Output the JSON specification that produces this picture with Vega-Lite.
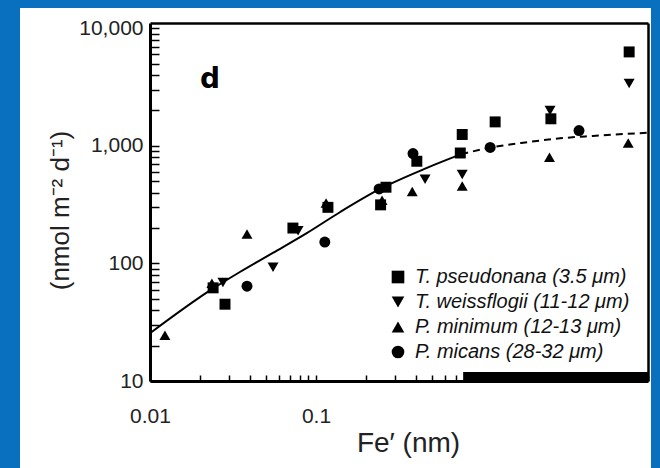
{
  "$schema": "https://vega.github.io/schema/vega-lite/v6.json",
  "width": 631,
  "height": 460,
  "autosize": {"type": "none"},
  "padding": {"left": 20, "top": 8, "right": 9, "bottom": 0},
  "background": "#0970c0",
  "view": {"fill": "white", "stroke": null},
  "config": {"font": "Liberation Sans"},
  "datasets": {
    "points": [
      {"species": "T. pseudonana (3.5 μm)", "fe": 0.024, "rate": 62},
      {"species": "T. pseudonana (3.5 μm)", "fe": 0.0283, "rate": 45},
      {"species": "T. pseudonana (3.5 μm)", "fe": 0.0726, "rate": 200},
      {"species": "T. pseudonana (3.5 μm)", "fe": 0.118, "rate": 300},
      {"species": "T. pseudonana (3.5 μm)", "fe": 0.245, "rate": 315},
      {"species": "T. pseudonana (3.5 μm)", "fe": 0.264, "rate": 445},
      {"species": "T. pseudonana (3.5 μm)", "fe": 0.405, "rate": 740},
      {"species": "T. pseudonana (3.5 μm)", "fe": 0.74, "rate": 870},
      {"species": "T. pseudonana (3.5 μm)", "fe": 0.76, "rate": 1250},
      {"species": "T. pseudonana (3.5 μm)", "fe": 1.2, "rate": 1600},
      {"species": "T. pseudonana (3.5 μm)", "fe": 2.6, "rate": 1700},
      {"species": "T. pseudonana (3.5 μm)", "fe": 7.7, "rate": 6300},
      {"species": "T. weissflogii (11-12 μm)", "fe": 0.0275, "rate": 69},
      {"species": "T. weissflogii (11-12 μm)", "fe": 0.0551, "rate": 93},
      {"species": "T. weissflogii (11-12 μm)", "fe": 0.078, "rate": 190},
      {"species": "T. weissflogii (11-12 μm)", "fe": 0.454, "rate": 520},
      {"species": "T. weissflogii (11-12 μm)", "fe": 0.76, "rate": 570},
      {"species": "T. weissflogii (11-12 μm)", "fe": 2.57, "rate": 2000},
      {"species": "T. weissflogii (11-12 μm)", "fe": 7.7, "rate": 3400},
      {"species": "P. minimum (12-13 μm)", "fe": 0.0123, "rate": 24.5},
      {"species": "P. minimum (12-13 μm)", "fe": 0.0236, "rate": 68},
      {"species": "P. minimum (12-13 μm)", "fe": 0.0384, "rate": 178},
      {"species": "P. minimum (12-13 μm)", "fe": 0.115, "rate": 327},
      {"species": "P. minimum (12-13 μm)", "fe": 0.25, "rate": 345},
      {"species": "P. minimum (12-13 μm)", "fe": 0.38, "rate": 410},
      {"species": "P. minimum (12-13 μm)", "fe": 0.76, "rate": 455},
      {"species": "P. minimum (12-13 μm)", "fe": 2.55, "rate": 800},
      {"species": "P. minimum (12-13 μm)", "fe": 7.6, "rate": 1060},
      {"species": "P. micans (28-32 μm)", "fe": 0.0384, "rate": 64},
      {"species": "P. micans (28-32 μm)", "fe": 0.113, "rate": 152},
      {"species": "P. micans (28-32 μm)", "fe": 0.24, "rate": 430},
      {"species": "P. micans (28-32 μm)", "fe": 0.384, "rate": 860},
      {"species": "P. micans (28-32 μm)", "fe": 1.12, "rate": 970},
      {"species": "P. micans (28-32 μm)", "fe": 3.84, "rate": 1350}
    ],
    "curve": [
      {"part": "solid", "fe": 0.01, "rate": 25.5},
      {"part": "solid", "fe": 0.023, "rate": 59},
      {"part": "solid", "fe": 0.035, "rate": 85},
      {"part": "solid", "fe": 0.055, "rate": 123},
      {"part": "solid", "fe": 0.088, "rate": 181},
      {"part": "solid", "fe": 0.14, "rate": 274},
      {"part": "solid", "fe": 0.243, "rate": 430},
      {"part": "solid", "fe": 0.466, "rate": 650},
      {"part": "solid", "fe": 0.75, "rate": 850},
      {"part": "dashed", "fe": 0.75, "rate": 850},
      {"part": "dashed", "fe": 1.16, "rate": 975},
      {"part": "dashed", "fe": 1.87, "rate": 1075},
      {"part": "dashed", "fe": 2.95, "rate": 1160},
      {"part": "dashed", "fe": 4.66, "rate": 1215},
      {"part": "dashed", "fe": 10, "rate": 1295}
    ],
    "bar": [
      {"x0": 0.77, "x1": 10, "y0": 10, "y1": 11.9}
    ],
    "panel": [
      {"label": "d", "fe": 0.023, "rate": 3105}
    ]
  },
  "layer": [
    {
      "data": {"name": "bar"},
      "mark": {"type": "rect", "color": "black"},
      "encoding": {
        "x": {"field": "x0", "type": "quantitative", "scale": {"type": "log", "domain": [0.01, 10], "range": [130, 628], "nice": false}, "axis": null},
        "x2": {"field": "x1"},
        "y": {"field": "y0", "type": "quantitative", "scale": {"type": "log", "domain": [10, 11100], "range": [373, 15], "nice": false}, "axis": null},
        "y2": {"field": "y1"}
      }
    },
    {
      "data": {"name": "curve"},
      "transform": [{"filter": "datum.part == 'solid'"}],
      "mark": {"type": "line", "color": "black", "strokeWidth": 2, "interpolate": "monotone"},
      "encoding": {
        "x": {"field": "fe", "type": "quantitative", "scale": {"type": "log", "domain": [0.01, 10], "range": [130, 628], "nice": false},
          "axis": {"orient": "top", "offset": -15, "ticks": false, "labels": false, "title": null, "grid": false, "domainColor": "black", "domainWidth": 2.5}},
        "y": {"field": "rate", "type": "quantitative", "scale": {"type": "log", "domain": [10, 11100], "range": [373, 15], "nice": false},
          "axis": {"orient": "right", "offset": -3, "ticks": false, "labels": false, "title": null, "grid": false, "domainColor": "black", "domainWidth": 2.5}}
      }
    },
    {
      "data": {"name": "curve"},
      "transform": [{"filter": "datum.part == 'dashed'"}],
      "mark": {"type": "line", "color": "black", "strokeWidth": 2, "strokeDash": [7, 5], "interpolate": "monotone"},
      "encoding": {
        "x": {"field": "fe", "type": "quantitative", "axis": null},
        "y": {"field": "rate", "type": "quantitative", "axis": null}
      }
    },
    {
      "data": {"name": "points"},
      "mark": {"type": "point", "filled": true, "color": "black", "opacity": 1, "size": 120},
      "encoding": {
        "x": {"field": "fe", "type": "quantitative",
          "axis": {"orient": "bottom", "offset": -87,
            "values": [0.01, 0.02, 0.03, 0.04, 0.05, 0.06, 0.07, 0.08, 0.09, 0.1, 0.2, 0.3, 0.4, 0.5, 0.6, 0.7, 0.8, 0.9, 1, 2, 3, 4, 5, 6, 7, 8, 9, 10],
            "labelExpr": "datum.value == 0.01 ? '0.01' : (datum.value == 0.1 ? '0.1' : '')",
            "labelOverlap": false, "labelFlush": false,
            "tickSize": -6, "tickWidth": 1.5, "tickColor": "black",
            "domainColor": "black", "domainWidth": 3, "grid": false,
            "labelPadding": 30, "labelFontSize": 21, "labelColor": "#222", "labelFont": "Liberation Sans",
            "title": "Fe′ (nm)", "titleFontSize": 28, "titleFontWeight": "normal", "titleColor": "#222", "titleFont": "Liberation Sans",
            "titleX": 388, "titleY": 62, "titleBaseline": "middle", "titleAlign": "center"}},
        "y": {"field": "rate", "type": "quantitative",
          "axis": {"orient": "left", "offset": -130,
            "values": [10, 20, 30, 40, 50, 60, 70, 80, 90, 100, 200, 300, 400, 500, 600, 700, 800, 900, 1000, 2000, 3000, 4000, 5000, 6000, 7000, 8000, 9000, 10000],
            "labelExpr": "indexof([10, 100, 1000, 10000], datum.value) >= 0 ? format(datum.value, ',') : ''",
            "labelOverlap": false, "labelFlush": false, "labelBaseline": "middle",
            "tickSize": -9, "tickWidth": 1.5, "tickColor": "black",
            "domainColor": "black", "domainWidth": 3, "grid": false,
            "labelPadding": 16, "labelFontSize": 21, "labelColor": "#222", "labelFont": "Liberation Sans",
            "title": "(nmol m⁻² d⁻¹)", "titleFontSize": 26, "titleFontWeight": "normal", "titleColor": "#222", "titleFont": "Liberation Sans",
            "titleX": -90, "titleY": 202, "titleAngle": -90, "titleBaseline": "middle", "titleAlign": "center"}},
        "shape": {"field": "species", "type": "nominal",
          "scale": {"domain": ["T. pseudonana (3.5 μm)", "T. weissflogii (11-12 μm)", "P. minimum (12-13 μm)", "P. micans (28-32 μm)"],
                    "range": ["square", "triangle-down", "triangle-up", "circle"]},
          "legend": {"orient": "none", "legendX": 368, "legendY": 259, "title": null, "padding": 0,
            "labelFontSize": 20, "labelFontStyle": "italic", "labelColor": "#111", "labelFont": "Liberation Sans", "labelLimit": 400,
            "labelOffset": 7, "rowPadding": 5, "symbolSize": 160,
            "symbolFillColor": "black", "symbolStrokeColor": "black", "symbolStrokeWidth": 0, "symbolOpacity": 1}}
      }
    },
    {
      "data": {"name": "panel"},
      "mark": {"type": "text", "font": "DejaVu Sans", "fontWeight": "bold", "fontSize": 28, "color": "black", "align": "center", "baseline": "alphabetic"},
      "encoding": {
        "x": {"field": "fe", "type": "quantitative", "axis": null},
        "y": {"field": "rate", "type": "quantitative", "axis": null},
        "text": {"field": "label", "type": "nominal"}
      }
    }
  ],
  "resolve": {"axis": {"x": "independent", "y": "independent"}}
}
